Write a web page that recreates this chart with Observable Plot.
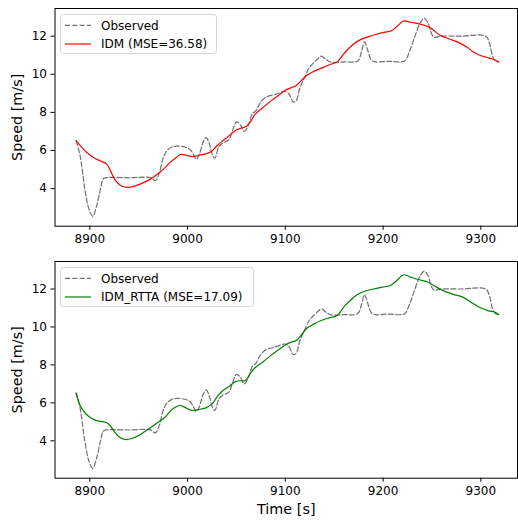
<!DOCTYPE html>
<html>
<head>
<meta charset="utf-8">
<script src="https://cdn.jsdelivr.net/npm/d3@7"></script>
<script src="https://cdn.jsdelivr.net/npm/@observablehq/plot@0.6"></script>
<style>
  body { margin: 0; background: #fff; font-family: "DejaVu Sans", sans-serif; }
  #wrap { position: relative; width: 518px; height: 520px; }
  .panel { position: absolute; left: 0; }
  .legend { position: absolute; }
</style>
</head>
<body>
<div id="wrap"></div>
<script>
// ---- Data ----
const obsTime = [8886, 8890, 8895, 8899, 8903, 8907, 8911, 8914, 8918, 8940, 8962, 8967, 8971, 8975, 8979, 8985, 8994, 9002, 9006, 9009, 9012, 9016, 9019, 9022, 9026, 9028, 9032, 9036, 9042, 9046, 9050, 9054, 9058, 9062, 9066, 9070, 9075, 9080, 9090, 9100, 9104, 9108, 9111, 9115, 9119, 9124, 9128, 9133, 9137, 9141, 9146, 9160, 9174, 9178, 9181, 9184, 9188, 9192, 9205, 9222, 9227, 9232, 9237, 9242, 9246, 9249, 9252, 9260, 9280, 9305, 9309, 9312, 9315, 9318];
const obsSpeed = [6.52, 5.75, 3.95, 2.95, 2.55, 3.1, 4.0, 4.52, 4.58, 4.57, 4.58, 4.42, 4.8, 5.6, 6.0, 6.2, 6.22, 6.08, 5.8, 5.54, 5.8, 6.45, 6.68, 6.4, 5.7, 5.6, 6.2, 6.4, 6.55, 7.05, 7.5, 7.35, 7.0, 7.3, 7.9, 8.1, 8.55, 8.8, 8.95, 9.1, 8.95, 8.55, 8.6, 9.3, 9.75, 10.3, 10.55, 10.8, 10.95, 10.8, 10.65, 10.65, 10.7, 11.2, 11.7, 11.3, 10.75, 10.65, 10.68, 10.7, 11.2, 11.9, 12.6, 12.93, 12.7, 12.2, 11.95, 12.0, 12.0, 12.0, 11.6, 10.95, 10.7, 10.65];

const idmTime = [8886, 8892, 8899, 8904, 8911, 8917, 8921, 8926, 8932, 8938, 8945, 8952, 8962, 8971, 8977, 8982, 8988, 8993, 8999, 9005, 9012, 9020, 9025, 9030, 9037, 9043, 9049, 9055, 9060, 9065, 9069, 9076, 9086, 9093, 9100, 9106, 9111, 9116, 9122, 9129, 9136, 9145, 9153, 9158, 9163, 9169, 9176, 9184, 9193, 9201, 9209, 9215, 9221, 9226, 9233, 9240, 9246, 9252, 9258, 9268, 9279, 9286, 9292, 9299, 9306, 9312, 9318];
const idmSpeed = [6.52, 6.15, 5.8, 5.62, 5.45, 5.3, 4.95, 4.45, 4.15, 4.07, 4.12, 4.25, 4.5, 4.83, 5.1, 5.38, 5.62, 5.79, 5.75, 5.68, 5.75, 5.85, 5.97, 6.25, 6.55, 6.8, 7.05, 7.18, 7.26, 7.55, 7.9, 8.2, 8.63, 8.9, 9.16, 9.3, 9.4, 9.65, 9.95, 10.15, 10.3, 10.5, 10.65, 10.95, 11.26, 11.55, 11.79, 11.95, 12.1, 12.2, 12.3, 12.55, 12.8, 12.75, 12.68, 12.6, 12.5, 12.3, 12.05, 11.85, 11.62, 11.42, 11.18, 11.0, 10.88, 10.8, 10.65];

const rttaTime = [8886, 8889, 8892, 8899, 8906, 8916, 8920, 8925, 8930, 8936, 8943, 8950, 8960, 8970, 8976, 8982, 8987, 8992, 8998, 9004, 9011, 9018, 9025, 9030, 9035, 9042, 9049, 9055, 9059, 9063, 9068, 9077, 9086, 9093, 9100, 9106, 9111, 9116, 9122, 9129, 9136, 9145, 9153, 9157, 9161, 9167, 9173, 9181, 9190, 9199, 9207, 9214, 9221, 9228, 9236, 9245, 9253, 9262, 9272, 9282, 9290, 9299, 9308, 9314, 9318.5];
const rttaSpeed = [6.52, 6.0, 5.68, 5.28, 5.08, 4.98, 4.85, 4.5, 4.2, 4.07, 4.12, 4.28, 4.62, 4.98, 5.2, 5.54, 5.75, 5.86, 5.75, 5.6, 5.65, 5.72, 5.95, 6.3, 6.6, 6.85, 7.12, 7.17, 7.17, 7.45, 7.8, 8.15, 8.53, 8.8, 9.05, 9.2, 9.28, 9.55, 9.93, 10.15, 10.33, 10.48, 10.6, 10.85, 11.12, 11.42, 11.68, 11.88, 12.0, 12.1, 12.17, 12.45, 12.75, 12.63, 12.5, 12.38, 12.15, 11.9, 11.72, 11.56, 11.3, 11.03, 10.85, 10.78, 10.65];

const xTicks = [8900, 9000, 9100, 9200, 9300];
const yTicks = [4, 6, 8, 10, 12];
const obsLabel = "Observed";
const idmLabel = "IDM (MSE=36.58)";
const rttaLabel = "IDM_RTTA (MSE=17.09)";
const xLabel = "Time [s]";
const yLabel = "Speed [m/s]";

// ---- Build tables ----
const obs = obsTime.map((t, i) => ({t, v: obsSpeed[i]}));
const idm = idmTime.map((t, i) => ({t, v: idmSpeed[i]}));
const rtta = rttaTime.map((t, i) => ({t, v: rttaSpeed[i]}));

const OBS_COLOR = "#707070";
const DASH = "5,2.3";
const FONT = "DejaVu Sans";

function panel(model, color, opts) {
  const marks = [
    Plot.axisX({ticks: xTicks, tickFormat: "d", tickSize: 4, tickPadding: 4, fontSize: 12, label: null}),
    Plot.axisY({ticks: yTicks, tickFormat: "d", tickSize: 4, tickPadding: 4, fontSize: 12, label: null}),
    Plot.axisY({ticks: [], label: yLabel, labelAnchor: "center", labelArrow: "none", labelOffset: 43.5, fontSize: 14.4}),
    Plot.line(obs, {x: "t", y: "v", stroke: OBS_COLOR, strokeWidth: 1.2, strokeDasharray: DASH, curve: "catmull-rom"}),
    Plot.line(model, {x: "t", y: "v", stroke: color, strokeWidth: 1.2, curve: "catmull-rom"}),
    Plot.frame({stroke: "black", strokeWidth: 1})
  ];
  if (opts.showXLabel) {
    marks.push(Plot.axisX({ticks: [], label: xLabel, labelAnchor: "center", labelArrow: "none", labelOffset: 36, fontSize: 14.4}));
  }
  return Plot.plot({
    width: 518,
    height: opts.height,
    marginLeft: 54.5,
    marginRight: 1,
    marginTop: opts.marginTop,
    marginBottom: opts.marginBottom,
    style: {fontFamily: FONT, fontSize: "12px", color: "black", background: "white", overflow: "visible"},
    x: {domain: [8864.4, 9337.5]},
    y: {domain: [2.03, 13.45]},
    marks
  });
}

function makeLegend(left, topPx, w, h, color, label) {
  const div = document.createElement("div");
  div.className = "legend";
  div.style.left = left + "px";
  div.style.top = topPx + "px";
  const svg = d3.create("svg").attr("width", w).attr("height", h)
    .style("font-family", FONT).style("font-size", "12px").style("display", "block");
  svg.append("rect").attr("x", 0.5).attr("y", 0.5).attr("width", w - 1).attr("height", h - 1)
    .attr("rx", 3).attr("fill", "rgba(255,255,255,0.8)").attr("stroke", "#d4d4d4");
  svg.append("line").attr("x1", 5).attr("x2", 31).attr("y1", 11.4).attr("y2", 11.4)
    .attr("stroke", OBS_COLOR).attr("stroke-width", 1.2).attr("stroke-dasharray", DASH);
  svg.append("text").attr("x", 41).attr("y", 11.4).attr("dy", "0.35em").attr("fill", "black").text(obsLabel);
  svg.append("line").attr("x1", 5).attr("x2", 31).attr("y1", 30).attr("y2", 30)
    .attr("stroke", color).attr("stroke-width", 1.2);
  svg.append("text").attr("x", 41).attr("y", 30).attr("dy", "0.35em").attr("fill", "black").text(label);
  div.appendChild(svg.node());
  return div;
}

const wrapEl = document.getElementById("wrap");

const topPlot = panel(idm, "red", {height: 250, marginTop: 8, marginBottom: 24.3, showXLabel: false});
const topDiv = document.createElement("div");
topDiv.className = "panel"; topDiv.style.top = "0px";
topDiv.appendChild(topPlot);
wrapEl.appendChild(topDiv);

const botPlot = panel(rtta, "green", {height: 270, marginTop: 11, marginBottom: 42.3, showXLabel: true});
const botDiv = document.createElement("div");
botDiv.className = "panel"; botDiv.style.top = "250px";
botDiv.appendChild(botPlot);
wrapEl.appendChild(botDiv);

wrapEl.appendChild(makeLegend(60, 14.3, 157, 40, "red", idmLabel));
wrapEl.appendChild(makeLegend(60, 266.7, 194, 40, "green", rttaLabel));
</script>
</body>
</html>
